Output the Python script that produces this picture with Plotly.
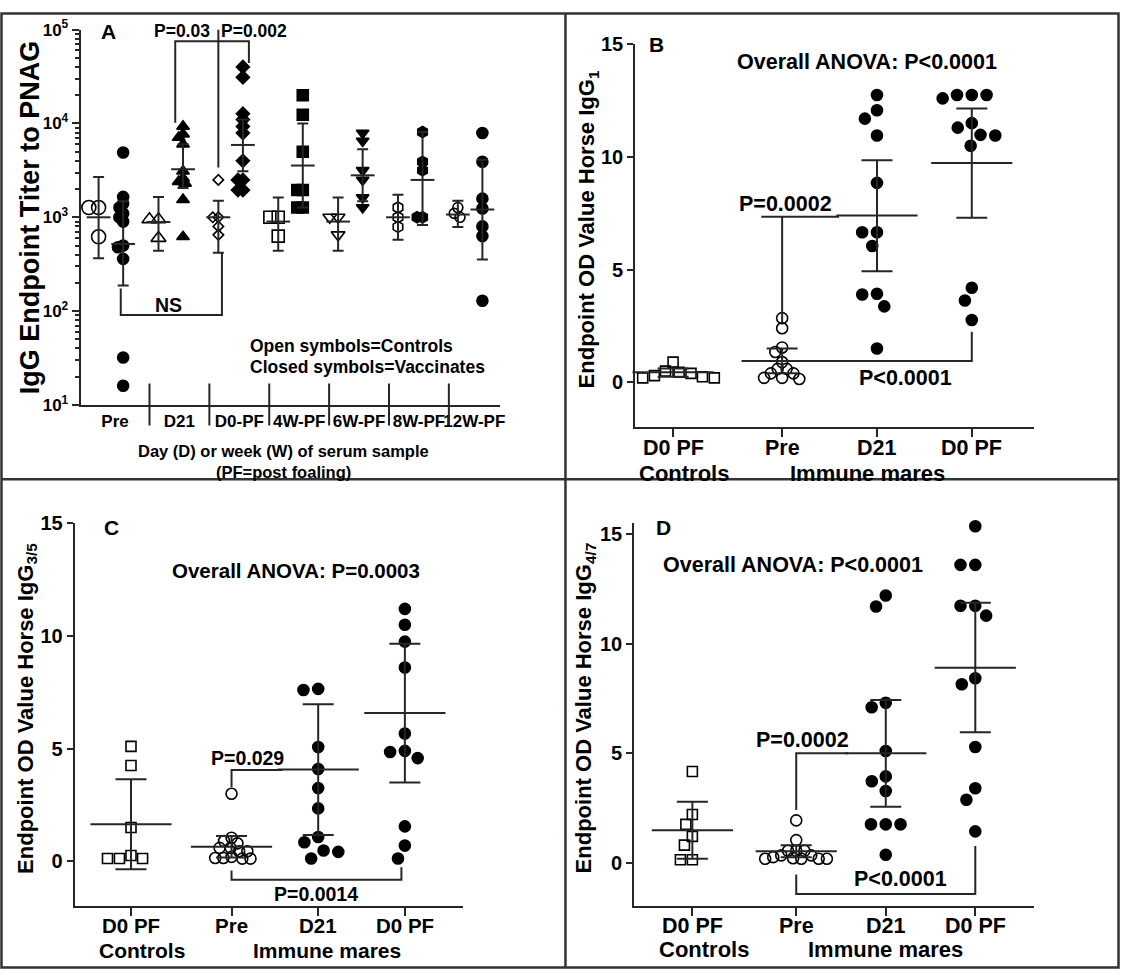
import numpy as np
import plotly.graph_objects as go

FONT = "Liberation Sans, Arial, sans-serif"
W, H = 1125, 979
LC = "#262626"

# ---------------- Panel A data (titer, log scale) ----------------
A_categories = ["Pre", "D21", "D0-PF", "4W-PF", "6W-PF", "8W-PF", "12W-PF"]
A_open_values = [[1270, 1270, 620], [950, 950, 600], [2500, 1000, 1000, 800, 650],
                 [1000, 1000, 630], [1000, 1000, 650], [1270, 1000, 790], [1270, 1100, 1000]]
A_open_mean = [1000, 890, 1000, 900, 900, 1000, 1070]
A_open_low = [365, 440, 420, 440, 440, 575, 790]
A_open_high = [2680, 1650, 1500, 1620, 1620, 1740, 1500]
A_closed_values = [[4900, 1650, 1400, 1270, 1100, 1000, 900, 500, 480, 360, 32, 16],
                   [9300, 7700, 7100, 6000, 3100, 2600, 2400, 2300, 1540, 620],
                   [40000, 31000, 12700, 11000, 9300, 7900, 4000, 2500, 2500, 1950, 1950],
                   [20000, 12400, 5000, 1950, 1950, 1270, 1270],
                   [7900, 6500, 3160, 2500, 1620, 1270],
                   [8100, 3900, 3160, 1000, 1000],
                   [7900, 3900, 1580, 1240, 800, 630, 129]]
A_closed_mean = [520, 3250, 5900, 3560, 2800, 2500, 1210]
A_closed_low = [187, 2050, 3100, 1270, 1480, 830, 355]
A_closed_high = [1480, 6000, 11000, 10000, 5300, 8100, 4100]

# ---------------- Panels B, C, D data (OD values) ----------------
BCD_categories = ["D0 PF", "Pre", "D21", "D0 PF"]

B_controls = [0.9, 0.5, 0.45, 0.4, 0.3, 0.25, 0.2, 0.2, 0.15]
B_pre = [2.85, 2.4, 1.55, 1.35, 0.9, 0.6, 0.6, 0.4, 0.4, 0.2, 0.2, 0.15]
B_d21 = [12.75, 12.07, 11.7, 10.95, 8.85, 6.66, 6.66, 6.05, 3.93, 3.9, 3.37, 1.5]
B_d0pf = [12.75, 12.75, 12.75, 12.6, 11.5, 11.3, 10.98, 10.95, 10.5, 4.2, 3.63, 2.77]
B_mean = [0.45, 0.95, 7.4, 9.73]
B_low = [0.25, 0.4, 4.93, 7.3]
B_high = [0.62, 1.5, 9.85, 12.15]

C_controls = [5.1, 4.25, 1.5, 0.26, 0.13, 0.13, 0.13]
C_pre = [3.0, 1.05, 0.9, 0.8, 0.6, 0.6, 0.45, 0.45, 0.2, 0.15, 0.15, 0.12, 0.12]
C_d21 = [7.65, 7.6, 5.07, 4.1, 3.25, 2.35, 1.08, 0.85, 0.48, 0.42, 0.13]
C_d0pf = [11.2, 10.5, 9.75, 8.6, 5.67, 4.9, 4.85, 4.58, 1.55, 0.7, 0.13]
C_mean = [1.65, 0.65, 4.07, 6.58]
C_low = [-0.35, 0.17, 1.17, 3.5]
C_high = [3.64, 1.13, 6.97, 9.65]

D_controls = [4.16, 2.2, 1.75, 1.2, 0.8, 0.13, 0.13]
D_pre = [1.93, 1.03, 0.54, 0.54, 0.54, 0.33, 0.33, 0.25, 0.2, 0.18, 0.18, 0.18, 0.18]
D_d21 = [12.2, 11.7, 7.3, 7.1, 5.1, 3.94, 3.72, 3.27, 1.75, 1.75, 1.75, 0.36]
D_d0pf = [15.36, 13.6, 13.6, 11.73, 11.73, 11.28, 8.42, 8.15, 5.28, 3.4, 2.87, 1.43]
D_mean = [1.48, 0.52, 5.0, 8.9]
D_low = [0.18, 0.25, 2.55, 5.95]
D_high = [2.78, 0.8, 7.43, 11.87]


def px(x):
    return x / W


def py(y):
    return 1 - y / H


def swarm_x(vals, xc, spx, spy, d, log=False):
    v = np.log10(np.asarray(vals, float)) if log else np.asarray(vals, float)
    ypx = v * spy
    order = np.argsort(-ypx, kind="stable")
    placed = []
    out = np.zeros(len(v))
    for i in order:
        y = ypx[i]
        forb = []
        for (qx, qy) in placed:
            dy = abs(qy - y)
            if dy < d:
                dx = np.sqrt(d * d - dy * dy)
                forb.append((qx - dx, qx + dx))
        cands = [0.0] + [e for iv in forb for e in iv]
        cands.sort(key=lambda c: (round(abs(c), 6), c))
        chosen = 0.0
        for c in cands:
            if all(not (a + 1e-6 < c < b - 1e-6) for a, b in forb):
                chosen = c
                break
        out[i] = xc + chosen / spx
        placed.append((chosen, y))
    return out


fig = go.Figure()


def add_group(xa, ya, xc, vals, symbol, size, spx, spy, dfac, mean, lo, hi,
              mean_w, cap_hw, log=False):
    xs = swarm_x(vals, xc, spx, spy, size * dfac, log=log)
    fig.add_trace(go.Scatter(
        x=xs, y=vals, mode="markers", xaxis=xa, yaxis=ya, showlegend=False,
        hoverinfo="skip", cliponaxis=False,
        marker=dict(symbol=symbol, size=size, color="black",
                    line=dict(width=1.6, color="black"))))
    fig.add_trace(go.Scatter(
        x=[xc], y=[mean], mode="markers", xaxis=xa, yaxis=ya, showlegend=False,
        hoverinfo="skip", cliponaxis=False,
        marker=dict(symbol="line-ew", size=mean_w, color=LC,
                    line=dict(width=2, color=LC)),
        error_y=dict(type="data", symmetric=False, array=[hi - mean],
                     arrayminus=[mean - lo], width=cap_hw, thickness=2, color=LC)))


def add_line(xa, ya, xs, ys):
    fig.add_trace(go.Scatter(x=xs, y=ys, mode="lines", xaxis=xa, yaxis=ya,
                             showlegend=False, hoverinfo="skip",
                             line=dict(color=LC, width=2)))


annots = []


def ann(text, x, y, xref, yref, size, **kw):
    d = dict(text=text, x=x, y=y, xref=xref, yref=yref, showarrow=False,
             xanchor="center", yanchor="middle",
             font=dict(family=FONT, size=size, color="black", weight="bold"))
    d.update(kw)
    annots.append(d)


# ---------------- Panel A ----------------
A_px = (81, 502, 18, 402)
A_xr = (-0.47, 6.53)
A_yr = (1, 5)
A_spx = (A_px[1] - A_px[0]) / (A_xr[1] - A_xr[0])
A_spy = (A_px[3] - A_px[2]) / (A_yr[1] - A_yr[0])
open_sym = ["circle-open", "triangle-up-open", "diamond-open", "square-open",
            "triangle-down-open", "hexagon-open", "circle-open"]
closed_sym = ["circle", "triangle-up", "diamond", "square", "triangle-down",
              "hexagon", "circle"]
open_size = [14, 13, 8, 12, 12, 11, 10]
closed_size = [11, 11, 10, 11, 11, 11, 11]
OPEN_OFF, CLOSED_OFF = -0.17, 0.24
for i in range(len(A_categories)):
    add_group("x", "y", i + OPEN_OFF, A_open_values[i], open_sym[i], open_size[i],
              A_spx, A_spy, 0.7, A_open_mean[i], A_open_low[i], A_open_high[i],
              17, 5.5, log=True)
    add_group("x", "y", i + CLOSED_OFF, A_closed_values[i], closed_sym[i], closed_size[i],
              A_spx, A_spy, 0.5, A_closed_mean[i], A_closed_low[i], A_closed_high[i],
              17, 5.5, log=True)

# brackets panel A
add_line("x", "y", [1 + CLOSED_OFF - 0.13] * 2 + [2 + CLOSED_OFF + 0.1] * 2,
         [10200, 75000, 75000, 44000])
add_line("x", "y", [2 + OPEN_OFF] * 2, [3400, 1e5])
add_line("x", "y", [0.2, 0.2, 2 + OPEN_OFF + 0.06, 2 + OPEN_OFF + 0.06], [174, 91, 91, 420])

seps = [i + 0.68 for i in range(len(A_categories) - 1)]
bounds = [A_xr[0]] + seps + [A_xr[1]]
A_tickpos = [(bounds[i] + bounds[i + 1]) / 2 for i in range(len(A_categories))]
shapes = []
for s in seps:
    shapes.append(dict(type="line", xref="x", yref="y domain", x0=s, x1=s,
                       y0=-0.055, y1=0.057, line=dict(color=LC, width=2)))

ann("A", 0, 4.98, "x", "y", 21)
ann("P=0.03", 1.23, 4.98, "x", "y", 17.5)
ann("P=0.002", 2.42, 4.98, "x", "y", 17.5)
ann("NS", 0.99, 2.07, "x", "y", 19.5)
ann("Open symbols=Controls", 2.33, 1.63, "x", "y", 17.5, xanchor="left")
ann("Closed symbols=Vaccinates", 2.33, 1.40, "x", "y", 17.5, xanchor="left")
ann("Day (D) or week (W) of serum sample", px(285), py(449), "paper", "paper", 16.5)
ann("(PF=post foaling)", px(285), py(471), "paper", "paper", 16.5)
ann("IgG Endpoint Titer to PNAG", px(30), py(210), "paper", "paper", 27, textangle=-90)

# ---------------- Panels B, C, D ----------------
panels = [
    dict(xa="x2", ya="y2", pxb=(638, 1039, 33, 425), xr=(-1.55, 2.66), yr=(-2, 15),
         ctrl=-1.15, data=[B_controls, B_pre, B_d21, B_d0pf], mean=B_mean, low=B_low,
         high=B_high, letter="B", letter_xy=(-1.32, 15.0),
         anova="Overall ANOVA: P<0.0001", anova_xy=(0.9, 14.2),
         ytitle="Endpoint OD Value Horse IgG<sub>1</sub>", ytitle_xy=(591, 222),
         row1_y=446, row2_y=472, mares_x=0.9, fs=21.5),
    dict(xa="x3", ya="y3", pxb=(75, 465, 523, 915), xr=(-1.81, 2.67), yr=(-2, 15),
         ctrl=-1.16, data=[C_controls, C_pre, C_d21, C_d0pf], mean=C_mean, low=C_low,
         high=C_high, letter="C", letter_xy=(-1.39, 14.8),
         anova="Overall ANOVA: P=0.0003", anova_xy=(0.74, 12.9),
         ytitle="Endpoint OD Value Horse IgG<sub>3/5</sub>", ytitle_xy=(27, 712),
         row1_y=935, row2_y=960, mares_x=1.1, fs=20.5),
    dict(xa="x4", ya="y4", pxb=(637, 1039, 523, 915), xr=(-1.81, 2.66), yr=(-2, 15.5),
         ctrl=-1.16, data=[D_controls, D_pre, D_d21, D_d0pf], mean=D_mean, low=D_low,
         high=D_high, letter="D", letter_xy=(-1.48, 15.3),
         anova="Overall ANOVA: P<0.0001", anova_xy=(-0.04, 13.6),
         ytitle="Endpoint OD Value Horse IgG<sub>4/7</sub>", ytitle_xy=(588, 712),
         row1_y=935, row2_y=959, mares_x=1.0, fs=21.5),
]
bcd_sym = ["square-open", "circle-open", "circle", "circle"]
bcd_size = [10, 11, 11, 11]
bcd_spread = [1.2, 0.75, 1.35, 1.35]
for p in panels:
    x0, x1, y0, y1 = p["pxb"]
    spx = (x1 - x0) / (p["xr"][1] - p["xr"][0])
    spy = (y1 - y0) / (p["yr"][1] - p["yr"][0])
    pos = [p["ctrl"], 0, 1, 2]
    for k in range(4):
        add_group(p["xa"], p["ya"], pos[k], p["data"][k], bcd_sym[k], bcd_size[k],
                  spx, spy, bcd_spread[k], p["mean"][k], p["low"][k], p["high"][k],
                  58, 15.5)
    p["pos"] = pos
    ax = p["xa"]
    fs = p["fs"]
    ann(p["letter"], p["letter_xy"][0], p["letter_xy"][1], ax, p["ya"], 21)
    ann(p["anova"], p["anova_xy"][0], p["anova_xy"][1], ax, p["ya"], fs)
    ann(p["ytitle"], px(p["ytitle_xy"][0]), py(p["ytitle_xy"][1]), "paper", "paper",
        22, textangle=-90)
    for k in range(4):
        ann(BCD_categories[k], pos[k], py(p["row1_y"]), ax, "paper", fs)
    ann("Controls", -1.03, py(p["row2_y"]), ax, "paper", fs + 0.5)
    ann("Immune mares", p["mares_x"], py(p["row2_y"]), ax, "paper", fs + 0.5)

# brackets B, C, D
add_line("x2", "y2", [0, 0], [2.65, 7.35])
add_line("x2", "y2", [-0.22, 0.6], [7.35, 7.35])
add_line("x2", "y2", [0.41, 2.0, 2.0], [0.95, 0.95, 2.25])
ann("P=0.0002", 0.04, 7.9, "x2", "y2", 21.5)
ann("P<0.0001", 1.3, 0.2, "x2", "y2", 21.5)

add_line("x3", "y3", [0, 0, 0.59], [3.3, 4.05, 4.05])
add_line("x3", "y3", [0, 0, 1.96, 1.96], [-0.4, -0.82, -0.82, -0.26])
ann("P=0.029", 0.19, 4.6, "x3", "y3", 19.5)
ann("P=0.0014", 0.97, -1.43, "x3", "y3", 19.5)

add_line("x4", "y4", [0, 0, 0.58], [2.4, 5.0, 5.0])
add_line("x4", "y4", [0, 0, 2.0, 2.0], [-0.54, -1.43, -1.43, 0.76])
ann("P=0.0002", 0.07, 5.6, "x4", "y4", 21.5)
ann("P<0.0001", 1.17, -0.76, "x4", "y4", 21.5)

# frame lines
for sh in [dict(x0=1.5, y0=1.5, x1=1123.5, y1=977.5, type="rect"),
           dict(x0=568, y0=1.5, x1=568, y1=977.5, type="line"),
           dict(x0=1.5, y0=478, x1=1123.5, y1=478, type="line")]:
    shapes.append(dict(type=sh["type"], xref="paper", yref="paper",
                       x0=px(sh["x0"]), x1=px(sh["x1"]), y0=py(sh["y0"]), y1=py(sh["y1"]),
                       line=dict(color="#333333", width=2.5)))

tf17 = dict(family=FONT, size=17, color="black", weight="bold")
tf20 = dict(family=FONT, size=20, color="black", weight="bold")

layout = dict(
    width=W, height=H, margin=dict(l=0, r=0, t=0, b=0),
    paper_bgcolor="white", plot_bgcolor="white", showlegend=False,
    font=dict(family=FONT, color="black"),
    xaxis=dict(domain=[px(A_px[0]), px(A_px[1])], range=list(A_xr), anchor="y",
               showline=True, linewidth=2, linecolor=LC, ticks="", showgrid=False,
               zeroline=False, tickvals=A_tickpos, ticktext=A_categories,
               tickfont=tf17, tickangle=0),
    yaxis=dict(domain=[py(A_px[3]), py(A_px[2])], type="log", range=list(A_yr),
               anchor="x", showline=True, linewidth=2, linecolor=LC, ticks="outside",
               ticklen=7, tickwidth=2, tickcolor=LC, showgrid=False, zeroline=False,
               tickvals=[10, 100, 1000, 10000, 100000],
               ticktext=["10<sup>1</sup>", "10<sup>2</sup>", "10<sup>3</sup>",
                         "10<sup>4</sup>", "10<sup>5</sup>"], tickfont=tf17,
               minor=dict(ticks="outside", ticklen=4, tickwidth=1.5, tickcolor=LC,
                          tickmode="array", showgrid=False,
                          tickvals=[m * 10 ** e for e in range(1, 5) for m in range(2, 10)])),
    annotations=annots, shapes=shapes,
)
for p in panels:
    x0, x1, y0, y1 = p["pxb"]
    xn = p["xa"].replace("x", "xaxis")
    yn = p["ya"].replace("y", "yaxis")
    layout[xn] = dict(domain=[px(x0), px(x1)], range=list(p["xr"]), anchor=p["ya"],
                      showline=True, linewidth=2, linecolor=LC, ticks="outside",
                      ticklen=8, tickwidth=2, tickcolor=LC, showgrid=False,
                      zeroline=False, tickvals=p["pos"], showticklabels=False)
    layout[yn] = dict(domain=[py(y1), py(y0)], range=list(p["yr"]), anchor=p["xa"],
                      showline=True, linewidth=2, linecolor=LC, ticks="outside",
                      ticklen=6, tickwidth=2, tickcolor=LC, showgrid=False,
                      zeroline=False, tickvals=[0, 5, 10, 15], tickfont=tf20)

fig.update_layout(**layout)
fig.write_html("out.html")
